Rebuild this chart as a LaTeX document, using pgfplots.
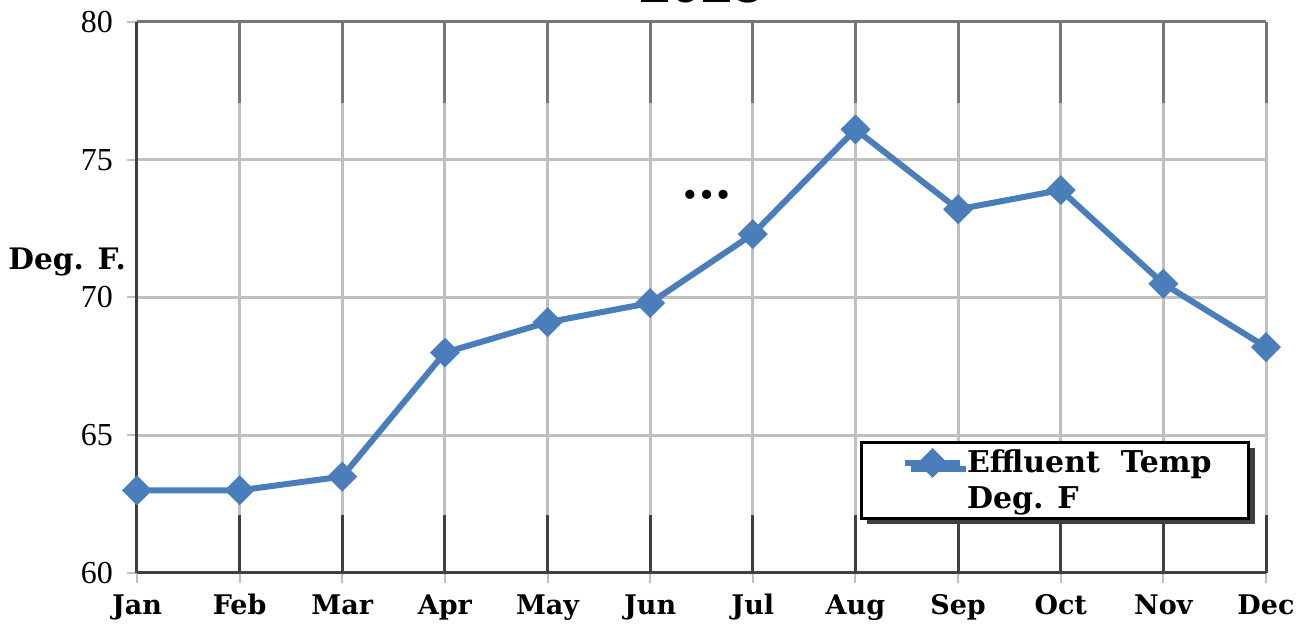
\documentclass[border=0pt]{standalone}
\usepackage{fontspec}
\setmainfont{Liberation Serif}
\newfontfamily\labfont{DejaVu Serif}
\newfontfamily\titfont{Liberation Sans}
\usepackage{pgfplots}
\pgfplotsset{compat=1.18}
\usetikzlibrary{shadows}

\definecolor{serie}{HTML}{4A7EBB}
\definecolor{gridlt}{HTML}{C0C0C0}
\definecolor{gridmd}{HTML}{767676}
\definecolor{griddk}{HTML}{404040}

\pgfplotstableread{
m  temp
0  63.0
1  63.0
2  63.5
3  68.0
4  69.1
5  69.8
6  72.3
7  76.1
8  73.2
9  73.9
10 70.5
11 68.2
}\tempdata

\begin{document}
\begin{tikzpicture}
\begin{axis}[
    scale only axis,
    width=564.5pt, height=275.5pt,
    xmin=0, xmax=11, ymin=60, ymax=80,
    xtick={0,...,11},
    xticklabels={Jan,Feb,Mar,Apr,May,Jun,Jul,Aug,Sep,Oct,Nov,Dec},
    ytick={60,65,...,80},
    /pgf/number format/assume math mode=true,
    tick align=outside, tickpos=left,
    major tick length=5pt,
    tick style={gridlt, line width=1pt},
    grid=major,
    major grid style={gridlt, line width=1.5pt},
    axis line style={draw=none},
    xticklabel style={font=\labfont\bfseries\fontsize{13.5}{15}\selectfont, anchor=base, yshift=-16pt},
    yticklabel style={font=\fontsize{16}{18}\selectfont, anchor=east, xshift=-3.5pt},
    ylabel={Deg. F.},
    ylabel style={rotate=-90, anchor=east, at={(rel axis cs:0,0.564)}, xshift=-2pt,
        font=\labfont\bfseries\fontsize{14.8}{16}\selectfont},
    title={2023},
    title style={at={(0.5,1)}, anchor=base, yshift=3.5pt,
        font=\titfont\bfseries\fontsize{28}{30}\selectfont},
    legend style={at={(rel axis cs:0.640,0.2396)}, anchor=north west,
        draw=black, line width=1.5pt, fill=white,
        inner xsep=16.5pt, inner ysep=1.5pt,
        drop shadow={shadow xshift=3pt, shadow yshift=-3pt, fill=griddk, opacity=1},
        font=\labfont\bfseries\fontsize{15}{17.5}\selectfont},
    legend cell align=left,
    legend image code/.code={
        \path (0pt,8.75pt);
        \draw[#1, mark repeat=2, mark phase=2] plot coordinates {(4pt,8.75pt) (17.75pt,8.75pt) (31.5pt,8.75pt)};
    },
    clip=false,
]
% darker ends of the vertical grid lines
\pgfplotsinvokeforeach{0,...,11}{
    \draw[gridmd, line width=1.5pt] (axis cs:#1,77.06) -- (axis cs:#1,80);
    \draw[griddk, line width=1.5pt] (axis cs:#1,60) -- (axis cs:#1,62.1);
}
\draw[gridmd, line width=1.5pt] (rel axis cs:0,1) -- (rel axis cs:1,1);
\draw[griddk, line width=1.5pt] (rel axis cs:0,0) -- (rel axis cs:0,1);
\draw[griddk, line width=1.5pt] (rel axis cs:0,0) -- (rel axis cs:1,0);

\addplot[serie, line width=3pt, mark=square*, mark size=3.8pt,
    mark options={rotate=45, solid}] table[x=m, y=temp] {\tempdata};
\addlegendentry{\shortstack[l]{Effluent\ \ Temp\\[1pt]Deg. F}}

\node[font=\labfont\bfseries\fontsize{13}{14}\selectfont] at (axis cs:5.55,73.65) {•••};
\end{axis}
\pgfresetboundingbox
\path ([shift={(-68.5pt,-25.5pt)}]current axis.south west) rectangle ([shift={(19.5pt,11pt)}]current axis.north east);
\end{tikzpicture}
\end{document}
